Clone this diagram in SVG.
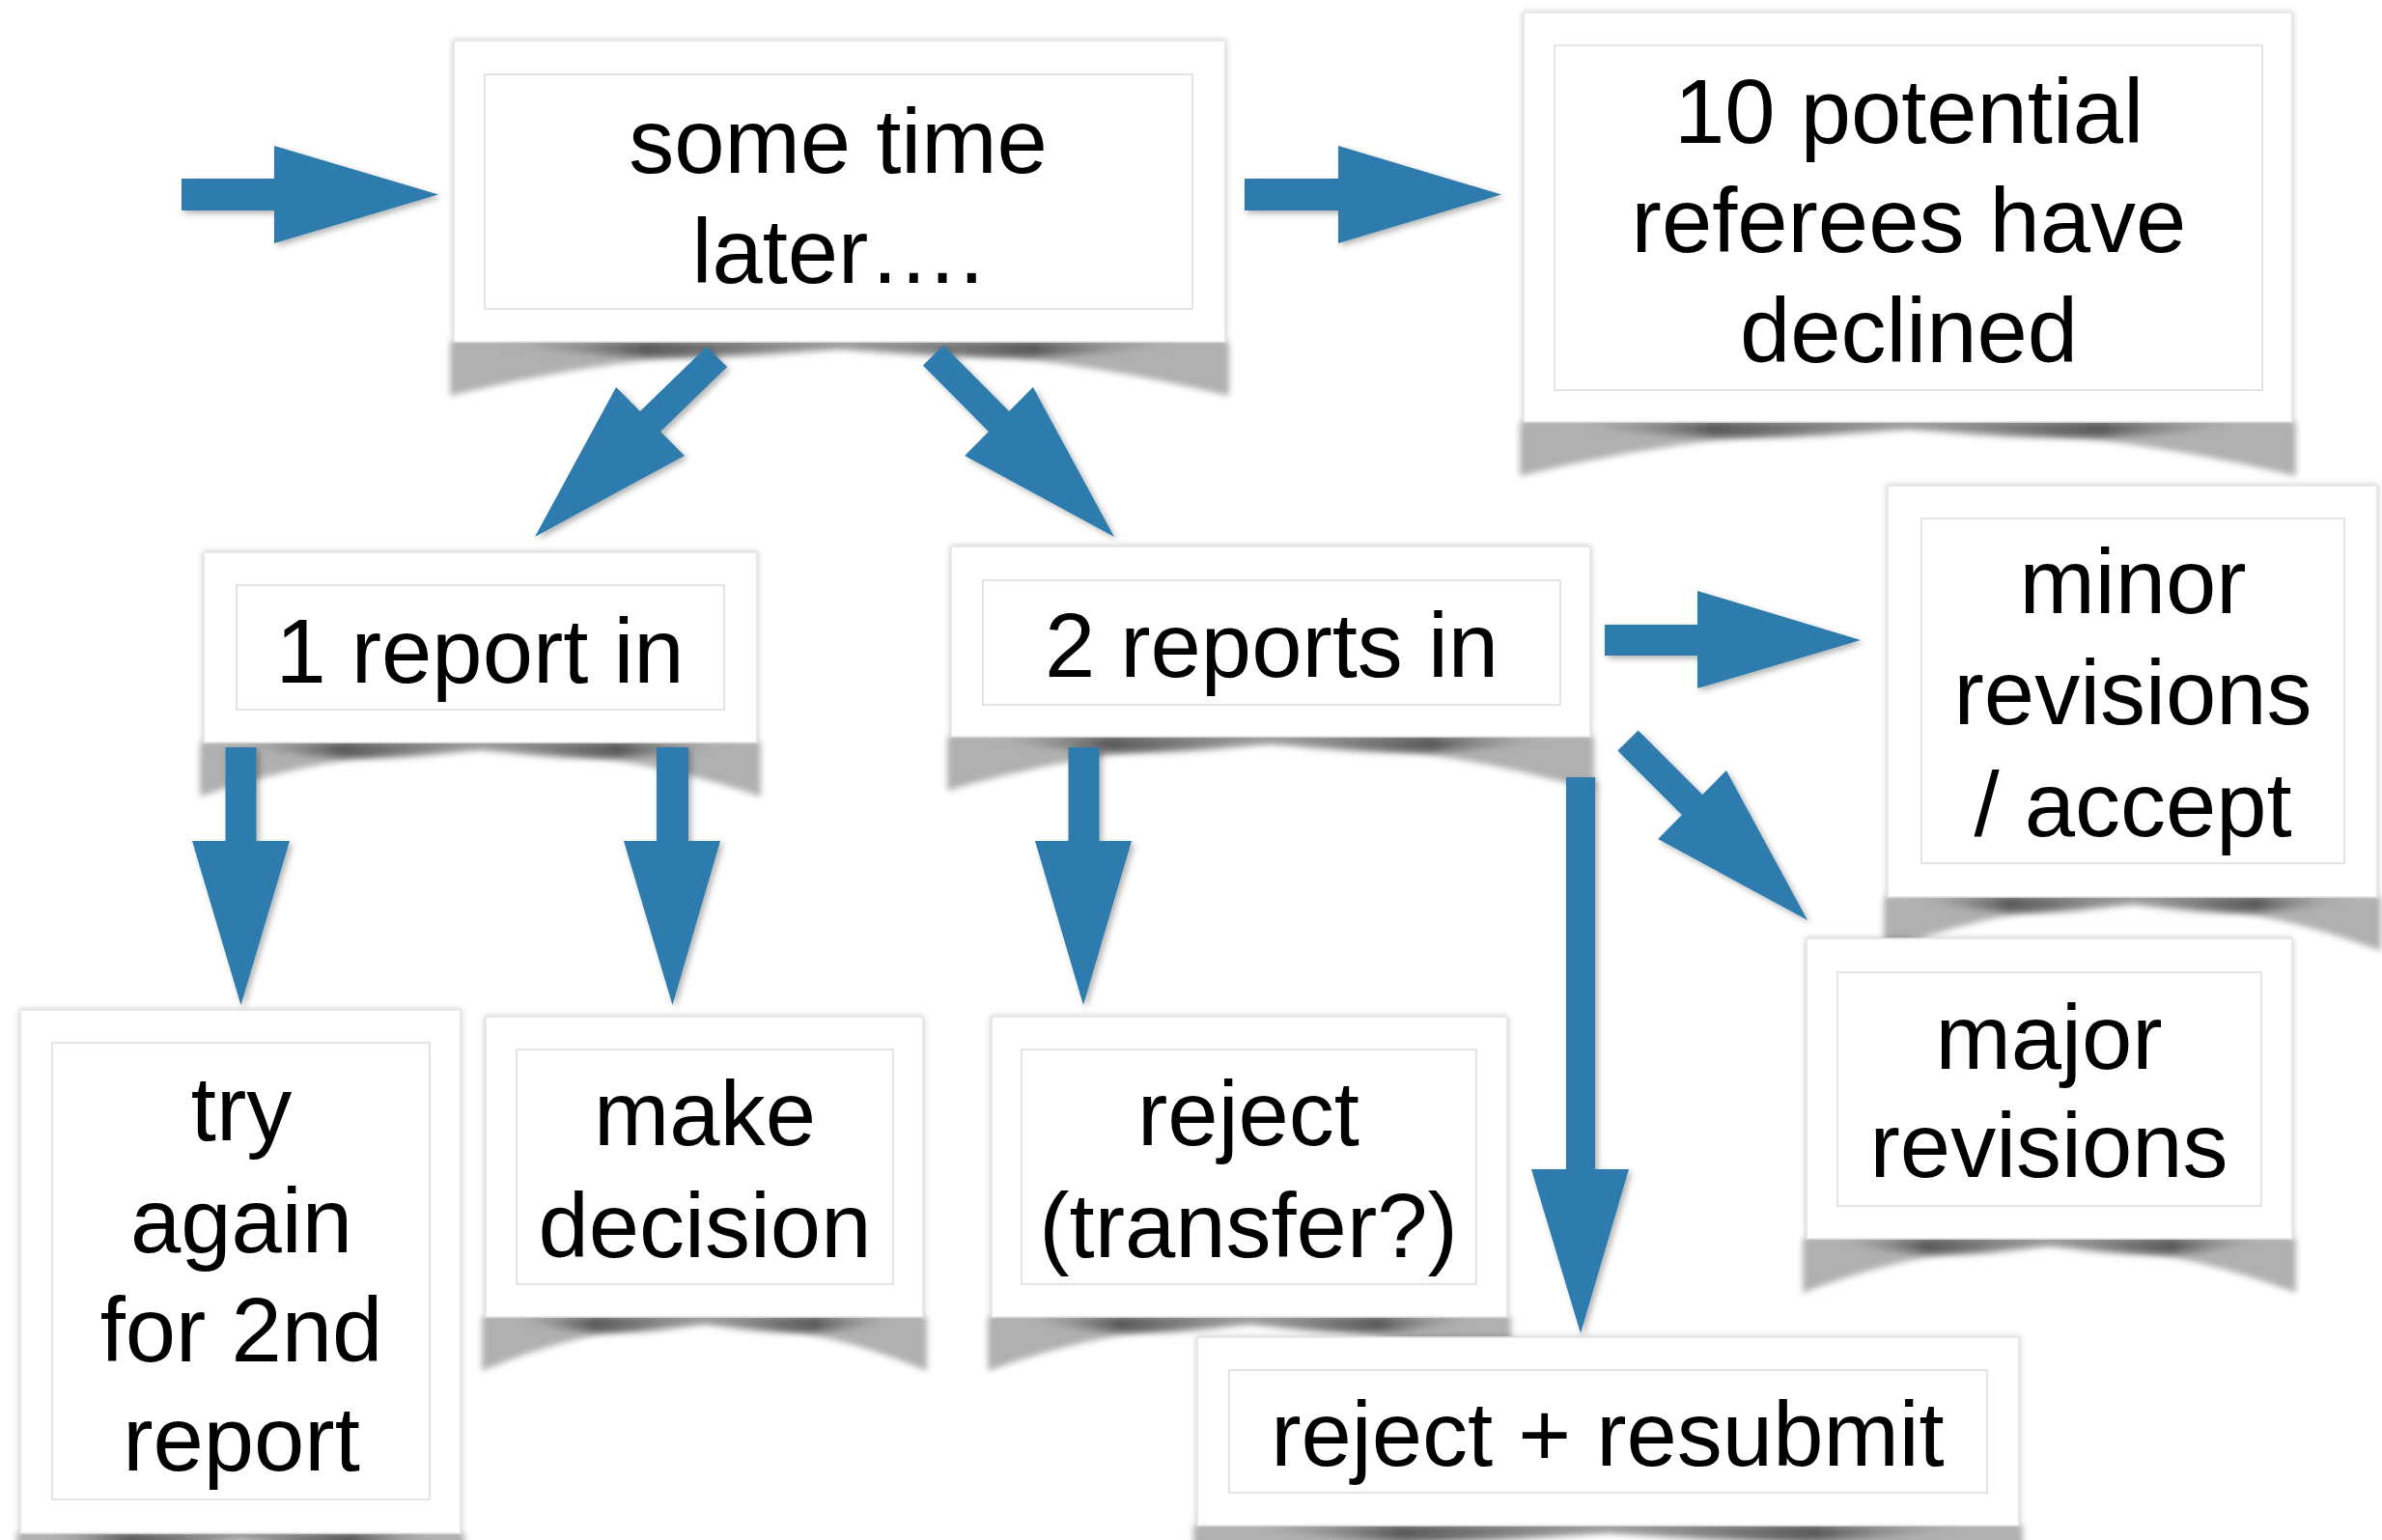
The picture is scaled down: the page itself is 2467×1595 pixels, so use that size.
<svg xmlns="http://www.w3.org/2000/svg" width="2467" height="1595" viewBox="0 0 2467 1595">
<defs>
<style>
.outer{fill:#ffffff;stroke:#e2e2e2;stroke-width:1.5;filter:url(#boxsh)}
.inner{fill:#ffffff;stroke:#e4e4e4;stroke-width:2}
.sh{fill:#b0b0b0;filter:url(#blur)}
.shd{fill:url(#shg);filter:url(#blur2)}
.lbl{font-family:"Liberation Sans",Arial,Helvetica,sans-serif;font-size:94px;fill:#000000;text-anchor:middle}
.arr{fill:#2f7bad;filter:url(#arrsh)}
</style>
<linearGradient id="shg" x1="0" y1="0" x2="1" y2="0">
<stop offset="0" stop-color="#9a9a9a" stop-opacity="0"/>
<stop offset="0.22" stop-color="#555555" stop-opacity="0.95"/>
<stop offset="0.5" stop-color="#888888" stop-opacity="0.6"/>
<stop offset="0.78" stop-color="#555555" stop-opacity="0.95"/>
<stop offset="1" stop-color="#9a9a9a" stop-opacity="0"/>
</linearGradient>
<filter id="blur" x="-5%" y="-60%" width="110%" height="220%">
<feGaussianBlur stdDeviation="3"/>
</filter>
<filter id="blur2" x="-5%" y="-100%" width="110%" height="300%">
<feGaussianBlur stdDeviation="3.5"/>
</filter>
<filter id="boxsh" x="-5%" y="-5%" width="110%" height="110%">
<feDropShadow dx="0" dy="0" stdDeviation="3" flood-color="#000" flood-opacity="0.22"/>
</filter>
<filter id="arrsh" x="-10%" y="-10%" width="130%" height="130%">
<feDropShadow dx="3" dy="3" stdDeviation="3" flood-color="#000" flood-opacity="0.3"/>
</filter>
</defs>
<rect width="2467" height="1595" fill="#ffffff"/>

<g id="node-some-time-later">
<path class="sh" d="M466,354 H1273 V410 Q869.5,312 466,410 Z"/>
<path class="shd" d="M510,354 H1229 Q1069,382 869.5,361 Q670,382 510,354 Z"/>
<rect class="outer" x="470" y="42" width="799" height="312"/>
<rect class="inner" x="502" y="77" width="733" height="243"/>
<text class="lbl" x="868" y="179">some time</text>
<text class="lbl" x="868" y="293">later….</text>
</g>

<g id="node-referees-declined">
<path class="sh" d="M1574,437 H2378 V493 Q1976,395 1574,493 Z"/>
<path class="shd" d="M1618,437 H2334 Q2175,465 1976,444 Q1777,465 1618,437 Z"/>
<rect class="outer" x="1578" y="13" width="796" height="424"/>
<rect class="inner" x="1610" y="47" width="733" height="357"/>
<text class="lbl" x="1977" y="148">10 potential</text>
<text class="lbl" x="1977" y="261">referees have</text>
<text class="lbl" x="1977" y="375">declined</text>
</g>

<g id="node-1-report">
<path class="sh" d="M207,769 H788 V825 Q497.5,727 207,825 Z"/>
<path class="shd" d="M240,769 H755 Q641,797 497.5,776 Q354,797 240,769 Z"/>
<rect class="outer" x="211" y="572" width="573" height="197"/>
<rect class="inner" x="245" y="606" width="505" height="129"/>
<text class="lbl" x="497" y="707">1 report in</text>
</g>

<g id="node-2-reports">
<path class="sh" d="M981,763 H1651 V819 Q1316,721 981,819 Z"/>
<path class="shd" d="M1018,763 H1614 Q1482,791 1316,770 Q1150,791 1018,763 Z"/>
<rect class="outer" x="985" y="566" width="662" height="197"/>
<rect class="inner" x="1018" y="601" width="598" height="129"/>
<text class="lbl" x="1317" y="701">2 reports in</text>
</g>

<g id="node-minor-revisions">
<path class="sh" d="M1951,929 H2466 V985 Q2208.5,887 1951,985 Z"/>
<path class="shd" d="M1980,929 H2437 Q2335,957 2208.5,936 Q2082,957 1980,929 Z"/>
<rect class="outer" x="1955" y="503" width="507" height="426"/>
<rect class="inner" x="1990" y="537" width="438" height="357"/>
<text class="lbl" x="2209" y="635">minor</text>
<text class="lbl" x="2209" y="750">revisions</text>
<text class="lbl" x="2209" y="866">/ accept</text>
</g>

<g id="node-major-revisions">
<path class="sh" d="M1867,1283 H2378 V1339 Q2122.5,1241 1867,1339 Z"/>
<path class="shd" d="M1896,1283 H2349 Q2248,1311 2122.5,1290 Q1997,1311 1896,1283 Z"/>
<rect class="outer" x="1871" y="972" width="503" height="311"/>
<rect class="inner" x="1903" y="1007" width="439" height="242"/>
<text class="lbl" x="2122" y="1107">major</text>
<text class="lbl" x="2122" y="1219">revisions</text>
</g>

<g id="node-try-again">
<path class="sh" d="M17,1588 H481 V1644 Q249,1546 17,1644 Z"/>
<path class="shd" d="M44,1588 H454 Q363,1616 249,1595 Q135,1616 44,1588 Z"/>
<rect class="outer" x="21" y="1046" width="456" height="542"/>
<rect class="inner" x="54" y="1080" width="391" height="473"/>
<text class="lbl" x="250" y="1181">try</text>
<text class="lbl" x="250" y="1297">again</text>
<text class="lbl" x="250" y="1410">for 2nd</text>
<text class="lbl" x="250" y="1523">report</text>
</g>

<g id="node-make-decision">
<path class="sh" d="M499,1364 H960 V1420 Q729.5,1322 499,1420 Z"/>
<path class="shd" d="M526,1364 H933 Q843,1392 729.5,1371 Q616,1392 526,1364 Z"/>
<rect class="outer" x="503" y="1053" width="453" height="311"/>
<rect class="inner" x="535" y="1087" width="390" height="243"/>
<text class="lbl" x="730" y="1186">make</text>
<text class="lbl" x="730" y="1302">decision</text>
</g>

<g id="node-reject-transfer">
<path class="sh" d="M1023,1364 H1565 V1420 Q1294,1322 1023,1420 Z"/>
<path class="shd" d="M1054,1364 H1534 Q1427,1392 1294,1371 Q1161,1392 1054,1364 Z"/>
<rect class="outer" x="1027" y="1053" width="534" height="311"/>
<rect class="inner" x="1058" y="1087" width="471" height="243"/>
<text class="lbl" x="1293" y="1186">reject</text>
<text class="lbl" x="1293" y="1302">(transfer?)</text>
</g>

<g id="node-reject-resubmit">
<path class="sh" d="M1236,1580 H2095 V1636 Q1665.5,1538 1236,1636 Z"/>
<path class="shd" d="M1283,1580 H2048 Q1878,1608 1665.5,1587 Q1453,1608 1283,1580 Z"/>
<rect class="outer" x="1240" y="1385" width="851" height="195"/>
<rect class="inner" x="1273" y="1419" width="785" height="127"/>
<text class="lbl" x="1665" y="1518">reject + resubmit</text>
</g>

<g id="connectors">
<polygon class="arr" points="188,185 284,185 284,151 454,201.5 284,252 284,218 188,218"/>
<polygon class="arr" points="1289,185 1386,185 1386,151 1555,201.5 1386,252 1386,218 1289,218"/>
<polygon class="arr" points="753.1,380.1 684.1,447.1 708.9,471.9 554,556 638.1,401.1 662.9,425.9 731.9,358.9"/>
<polygon class="arr" points="977.1,357.4 1045.1,425.9 1069.9,401.1 1154,556 999.1,471.9 1023.9,447.1 955.9,378.6"/>
<polygon class="arr" points="1662,647 1758,647 1758,612 1927,663 1758,713 1758,679 1662,679"/>
<polygon class="arr" points="1696.6,756.4 1763.1,822.9 1787.9,798.1 1872,953 1717.1,868.9 1741.9,844.1 1675.4,777.6"/>
<polygon class="arr" points="233.5,774 265.5,774 265.5,871 300,871 249.5,1041 199,871 233.5,871"/>
<polygon class="arr" points="680,774 713,774 713,871 746,871 696.5,1041 646,871 680,871"/>
<polygon class="arr" points="1106.5,774 1138.5,774 1138.5,871 1172,871 1122,1041 1072,871 1106.5,871"/>
<polygon class="arr" points="1622,805 1652,805 1652,1211 1687,1211 1637,1381 1586,1211 1622,1211"/>
</g>
</svg>
